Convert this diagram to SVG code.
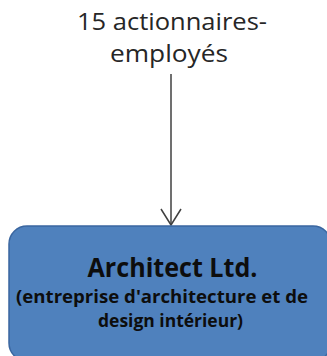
<svg xmlns="http://www.w3.org/2000/svg" width="327" height="356" viewBox="0 0 327 356">
  <defs>
    <style>
      .lbl { font-family: "Open Sans", "Liberation Sans", sans-serif; fill: #262626; text-anchor: middle; }
      .box { fill: #4f81bd; stroke: #3a66a0; stroke-width: 1.5; }
      .in { font-family: "Open Sans", "Liberation Sans", sans-serif; font-weight: bold; fill: #0d0d0d; text-anchor: middle; }
      .conn { stroke: #404040; stroke-width: 1.5; fill: none; }
    </style>
  </defs>
  <rect width="327" height="356" fill="#ffffff"/>

  <g id="shareholders">
    <text class="lbl" x="172" y="30" font-size="24.5" textLength="190" lengthAdjust="spacingAndGlyphs">15 actionnaires-</text>
    <text class="lbl" x="169" y="62" font-size="24.5" textLength="118" lengthAdjust="spacingAndGlyphs">employés</text>
  </g>

  <g id="connectors">
    <line class="conn" x1="171" y1="74" x2="171" y2="225"/>
    <polyline class="conn" points="161,209 171,225 181,209"/>
  </g>

  <g id="architect">
    <rect class="box" x="9" y="226" width="322" height="135" rx="18" ry="18"/>
    <text class="in" x="172.5" y="277" font-size="27" textLength="170" lengthAdjust="spacingAndGlyphs">Architect Ltd.</text>
    <text class="in" x="162" y="303" font-size="17.5" textLength="292" lengthAdjust="spacingAndGlyphs">(entreprise d'architecture et de</text>
    <text class="in" x="170.5" y="327" font-size="17.5" textLength="145" lengthAdjust="spacingAndGlyphs">design intérieur)</text>
  </g>
</svg>
